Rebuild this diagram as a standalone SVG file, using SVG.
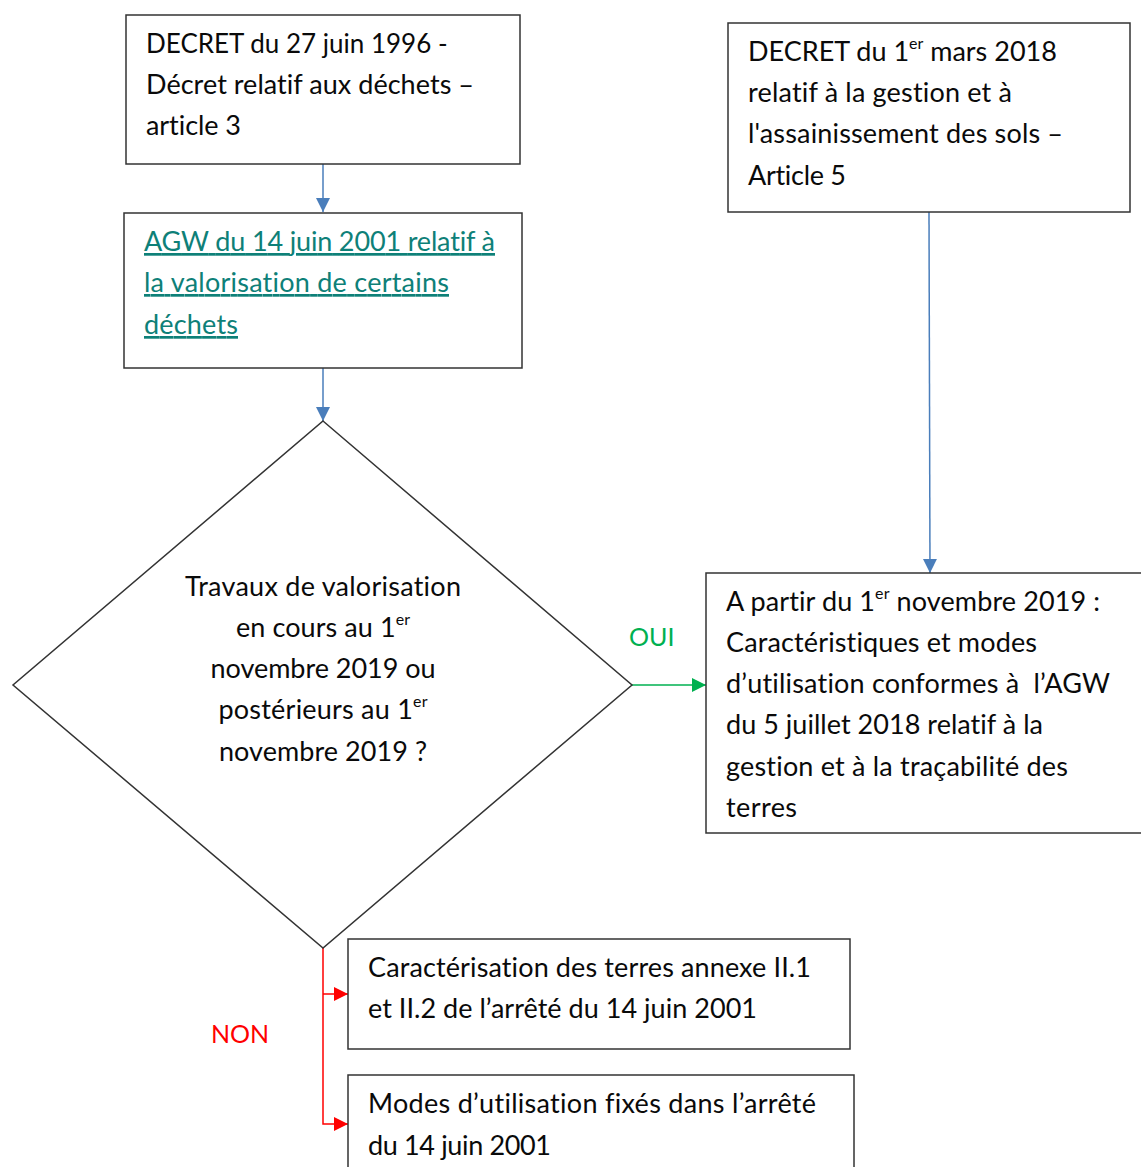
<svg xmlns="http://www.w3.org/2000/svg" width="1141" height="1167" viewBox="0 0 1141 1167">
<defs>
<style>
.box{fill:#fff;stroke:#333;stroke-width:1.5}
.t{font-family:Lato,"Liberation Sans",sans-serif;font-size:27px;fill:#0a0a0a;font-variant-ligatures:none}
.c{text-anchor:middle}
.link{fill:#0E8078;text-decoration:underline}
.sup{font-size:16px}
.lbl{font-size:25px}
.blue{stroke:#4A7EBB;stroke-width:1.5;fill:none}
.green{stroke:#00B050;stroke-width:1.5;fill:none}
.red{stroke:#FF0000;stroke-width:1.5;fill:none}
</style>
<marker id="ab" markerWidth="14" markerHeight="14" refX="14" refY="7" orient="auto" markerUnits="userSpaceOnUse"><path d="M0,0 L14,7 L0,14 Z" fill="#4A7EBB"/></marker>
<marker id="ag" markerWidth="14" markerHeight="14" refX="14" refY="7" orient="auto" markerUnits="userSpaceOnUse"><path d="M0,0 L14,7 L0,14 Z" fill="#00B050"/></marker>
<marker id="ar" markerWidth="14" markerHeight="14" refX="14" refY="7" orient="auto" markerUnits="userSpaceOnUse"><path d="M0,0 L14,7 L0,14 Z" fill="#FF0000"/></marker>
</defs>
<rect width="1141" height="1167" fill="#fff"/>
<g id="connectors">
<line class="blue" x1="323" y1="164" x2="323" y2="212" marker-end="url(#ab)"/>
<line class="blue" x1="323" y1="368" x2="323" y2="421" marker-end="url(#ab)"/>
<line class="blue" x1="929" y1="212" x2="930" y2="573" marker-end="url(#ab)"/>
<line class="green" x1="632" y1="685" x2="706" y2="685" marker-end="url(#ag)"/>
<polyline class="red" points="323,948 323,1124 348,1124" marker-end="url(#ar)"/>
<line class="red" x1="323" y1="994" x2="348" y2="994" marker-end="url(#ar)"/>
<text class="t lbl" x="629" y="646" style="fill:#00B050">OUI</text>
<text class="t lbl" x="211" y="1043" style="fill:#FF0000">NON</text>
</g>
<g id="decret1996">
<rect class="box" x="126" y="15" width="394" height="149"/>
<text class="t" x="146" y="53" style="font-size:26px">DECRET du 27 juin 1996 -</text>
<text class="t" x="146" y="94" textLength="328">Décret relatif aux déchets –</text>
<text class="t" x="146" y="135" textLength="95">article 3</text>
</g>
<g id="agw2001">
<rect class="box" x="124" y="213" width="398" height="155"/>
<text class="t link" x="144" y="251" textLength="351">AGW du 14 juin 2001 relatif à</text>
<text class="t link" x="144" y="292" textLength="305">la valorisation de certains</text>
<text class="t link" x="144" y="334" textLength="94">déchets</text>
</g>
<g id="decision">
<polygon class="box" points="323,421 632,685 323,948 13,685"/>
<text class="t c" x="323" y="596" textLength="276">Travaux de valorisation</text>
<text class="t c" x="323" y="637" textLength="174">en cours au 1<tspan class="sup" dy="-12">er</tspan></text>
<text class="t c" x="323" y="678" textLength="225">novembre 2019 ou</text>
<text class="t c" x="323" y="719" textLength="209">postérieurs au 1<tspan class="sup" dy="-12">er</tspan></text>
<text class="t c" x="323" y="761" textLength="208">novembre 2019 ?</text>
</g>
<g id="decret2018">
<rect class="box" x="728" y="23" width="402" height="189"/>
<text class="t" x="748" y="61">DECRET du 1<tspan class="sup" dy="-12">er</tspan><tspan dy="12"> mars 2018</tspan></text>
<text class="t" x="748" y="102" textLength="264">relatif à la gestion et à</text>
<text class="t" x="748" y="143" textLength="315">l'assainissement des sols –</text>
<text class="t" x="748" y="185" textLength="98">Article 5</text>
</g>
<g id="agw2018">
<rect class="box" x="706" y="573" width="440" height="260"/>
<text class="t" x="726" y="611" textLength="374">A partir du 1<tspan class="sup" dy="-12">er</tspan><tspan dy="12"> novembre 2019 :</tspan></text>
<text class="t" x="726" y="652" textLength="311">Caractéristiques et modes</text>
<text class="t" x="726" y="693" textLength="384">d’utilisation conformes à&#160; l’AGW</text>
<text class="t" x="726" y="734" textLength="317">du 5 juillet 2018 relatif à la</text>
<text class="t" x="726" y="776" textLength="342">gestion et à la traçabilité des</text>
<text class="t" x="726" y="817" textLength="71">terres</text>
</g>
<g id="caracterisation">
<rect class="box" x="348" y="939" width="502" height="110"/>
<text class="t" x="368" y="977" textLength="443">Caractérisation des terres annexe II.1</text>
<text class="t" x="368" y="1018" textLength="389">et II.2 de l’arrêté du 14 juin 2001</text>
</g>
<g id="modes">
<rect class="box" x="348" y="1075" width="506" height="100"/>
<text class="t" x="368" y="1113" textLength="448">Modes d’utilisation fixés dans l’arrêté</text>
<text class="t" x="368" y="1155" textLength="183">du 14 juin 2001</text>
</g>
</svg>
